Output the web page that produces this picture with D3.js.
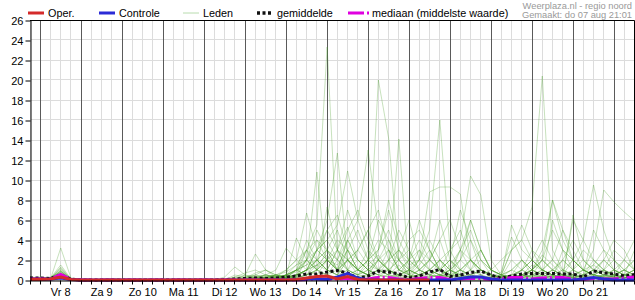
<!DOCTYPE html>
<html><head><meta charset="utf-8">
<script src="https://cdn.jsdelivr.net/npm/d3@7"></script>
<style>
body{margin:0;background:#fff}
svg{display:block;font-family:"Liberation Sans",Arial,sans-serif}
</style></head>
<body><svg id="chart" width="635" height="300"></svg>
<script>
// ---------- DATA ----------
const startTime = new Date(2025, 7, 7, 18); // do 07 aug 18:00, 6-hourly steps
const stepHours = 6;
const nSteps = 60;
const dayLabels = ["Vr 8","Za 9","Zo 10","Ma 11","Di 12","Wo 13","Do 14","Vr 15","Za 16","Zo 17","Ma 18","Di 19","Wo 20","Do 21"];
const yTicks = [0,2,4,6,8,10,12,14,16,18,20,22,24,26];
const legendNames = ["Oper.","Controle","Leden","gemiddelde","mediaan (middelste waarde)"];
const creditLines = ["Weerplaza.nl - regio noord","Gemaakt: do 07 aug 21:01"];

const oper = [0.05,0.05,0.1,0.3,0.05, 0,0,0,0,0,0,0,0,0,0,0,0,0,0, 0,0,0,0,0,0,0,0.05,0.2,0.35,0.4,0.1,0.35,0.05,0,0,0,0,0,0,0];
const controle = [0.05,0.05,0.1,0.2,0.05, 0,0,0,0,0,0,0,0,0,0,0,0,0,0, 0,0,0,0,0,0,0,0.05,0.1,0.1,0.05,0.3,0.65,0.2,0,0,0,0,0,0,0,0,0,0.15,0.3,0.3,0.1,0,0,0,0,0,0,0,0,0.1,0.25,0.1,0,0,0];
const gemiddelde = [0.2,0.2,0.15,0.5,0.1, 0,0,0,0,0,0,0,0,0,0,0,0,0,0, 0.05,0.1,0.15,0.2,0.15,0.2,0.3,0.4,0.6,0.6,0.8,0.95,0.7,0.2,0.4,0.9,0.8,0.6,0.2,0.4,0.8,1.05,0.35,0.5,0.75,0.9,0.5,0.17,0.4,0.6,0.65,0.65,0.65,0.6,0.6,0.28,0.9,0.72,0.6,0.4,0.55];
const mediaan = [0.1,0.1,0.1,0.55,0.05, 0,0,0,0,0,0,0,0,0,0,0,0,0,0, 0,0,0,0,0,0,0,0,0.05,0.1,0.1,0.1,0.15,0.05,0.1,0.25,0.25,0.1,0.05,0.15,0.25,0.25,0.05,0.1,0.15,0.15,0.05,0.1,0.25,0.25,0.1,0.2,0.25,0.25,0.1,0.05,0.15,0.1,0.1,0.2,0.3];

const leden = [
 [0.3,0.2,0.1,3.2,0.2, 0,0,0,0,0,0,0,0,0,0,0,0,0,0, 0,0,0,0,0.3,0.5,0.8,1.5,3,5.5,23.3,3,1,0.5,1.5,2.5,1,0.3,0,0.2,1,0.5,0,0,0.3,1,0.2,0,0,0.5,1.5,1,2,0.8,0.3,0,0.5,1,0.5,0.2,0.4],
 [0.2,0.3,0.2,1.5,0.1, 0,0,0,0.1,0,0,0,0,0,0,0,0,0,0, 0,0,0.3,0.5,0.2,0,0.5,1,2,10.8,1,0.5,3,5,2,1,0.5,1.5,0.5,0,0.3,2,1,0.5,0,0,0,0.3,1,0.5,0.2,0,0.5,2,1,0.3,0,0,0.5,1,0.3],
 [0.2,0.2,0.1,1.3,0.1, 0,0,0,0,0,0,0,0,0,0,0,0,0,0, 0,0,0,0,0,0.2,0.5,1,1.5,3,6,12.7,2,0.5,0.3,1,3,2,0.5,0.2,0.5,0.3,1.5,3,2,0.5,0,0,0.2,0.5,0.3,0.2,1,0.5,0.2,0.5,1.5,3,2,0.5,0.3],
 [0.3,0.2,0.2,1.2,0, 0,0,0,0,0,0,0,0,0,0,0,0,0,0, 0,0,0.5,0.3,0,0.2,0,0.5,2,3,4,5.5,10.9,6,3,1,0.5,0.3,1,2,1,0,0.5,1,0.3,0,0,0,0,0.3,0.5,0.8,0.4,0,0,0.3,0.6,0.2,0,0.5,1],
 [0.2,0.2,0.1,1.0,0.1, 0,0,0,0.1,0,0,0,0,0,0,0,0,0,0, 0.3,1.3,0.5,0.2,0.5,0.3,0.2,0.5,1,1.5,2.5,1,4,6,13,5,2,1,0.5,0.3,0.2,0.5,1,0.3,0,0,0.3,0.8,4.3,2,1,0.5,0.3,0.2,0.5,1,0.5,0.3,0.2,0,0.3],
 [0.1,0.1,0.2,0.9,0, 0,0,0,0,0,0,0,0,0,0,0,0,0,0, 0,0.3,0.2,0.7,1,0.5,0.3,0.5,0.2,1,2,1.5,3,2,1,20,14.2,2,0.5,0.3,1,2,1,0.5,0.3,0.2,0,0,0.5,1,0.5,0.3,0.2,3,2,1,0.5,0.3,0.2,0.5,1],
 [0.2,0.1,0.1,0.8,0.1, 0,0,0,0,0,0,0,0,0,0,0,0,0,0, 0,0,0,0.3,0.5,0.3,0.2,1,3,2,1,0.5,2,3,1.5,1,1,14.1,0.5,1.5,3,1,0.5,0.3,1,2,0.5,0,0,0.3,1,2.5,1.5,0.5,0.2,0,0.3,0.5,1,0.5,0.2],
 [0.2,0.2,0.3,0.7,0, 0,0,0,0,0,0,0,0,0,0,0,0,0,0, 0,0,0,0,0.2,0.5,0.3,0.5,1,2,3,1,2,1,0.5,1,2,3,1.5,2,5,16,3,1,0.5,0.3,0.2,0,0.2,0.5,1,2,1,0.5,0.3,0.5,2,1,0.5,0.3,0.2],
 [0.1,0.2,0.1,0.6,0.1, 0,0,0,0.1,0,0,0,0,0,0,0,0,0,0, 0,0,0.2,0.3,0.2,0,0.3,0.5,1,1.5,1,3,2,1,0.5,2,3,1,0.8,2,8.8,9.3,9.3,8.6,2,1,0.5,0.2,0.3,0.5,1,0.5,0.3,0.2,0.5,1,1.5,0.8,0.3,0.2,0.5],
 [0.2,0.1,0.2,0.5,0, 0,0,0,0,0,0,0,0,0,0,0,0,0,0, 0,0,0,0,0,0.3,0.5,0.2,0.5,1,2,4,3,1,2,3,5,2,1,0.5,1,2,3,4,10.4,8.5,2,0.5,0.3,1,2,1,0.5,0.3,0.2,0.5,1,0.8,0.5,1,2],
 [0.1,0.1,0.1,0.5,0, 0,0,0,0,0,0,0,0,0,0,0,0,0,0, 0,0,0.3,0.5,0.3,0.2,0.5,1,0.5,2,3,2,1,0.5,1,2,1,0.5,0.3,1,2,1,0.5,0.3,0.2,0.5,1,2,3,4,7.3,20.4,3,1,0.5,0.3,0.2,0.5,1,0.5,0.3],
 [0.2,0.2,0.1,0.4,0, 0,0,0,0,0,0,0,0,0,0,0,0,0,0, 0,0,0,0.2,0.5,0.3,0.2,0.3,1,3,5,3,2,1,0.5,0.3,1,2,3,1,0.5,0.3,1,2,1,0.5,0.2,0,0.3,1,2,1,0.5,1,2,4,9.5,5,2,1,0.5],
 [0.2,0.1,0.2,0.4,0.1, 0,0,0,0,0,0,0,0,0,0,0,0,0,0, 0,0,0,0,0.3,0.2,0.5,0.8,2,1,0.5,2,4,2,1,0.5,1,0.5,2,3,1,0.5,0.3,0.5,2,1,0.5,0.3,0.2,0.5,1,2,1,0.5,0.3,1,3,9,7.8,6.8,5.9],
 [0.1,0.2,0.1,0.3,0, 0,0,0,0,0,0,0,0,0,0,0,0,0,0, 0,0.2,0.5,2.6,1,0.5,0.3,0.5,1,2,5,6.5,3,1,2,4,3,1,0.5,2,4,2,1,3,6,3,1,0.5,0.2,0.3,1,2,5,3,2,1,0.5,0.3,1,2,1],
 [0.2,0.1,0.1,0.3,0, 0,0,0,0,0,0,0,0,0,0,0,0,0,0, 0,0,0,0.3,0.5,1,3.2,2,6.7,3,2,1,0.5,1,3,2,1,2,4,5,3,1,2,1,0.5,0.3,0.2,0.5,5.5,3,2,1,0.5,0.2,6.5,2,1,0.5,0.3,0.2,0.5],
 [0.1,0.1,0.1,0.2,0, 0,0,0,0,0,0,0,0,0,0,0,0,0,0, 0,0,0,0,0,0.2,0.5,4.2,2,1,7.3,3,5.3,2,1,0.5,2,3,6,2,1,0.5,0.3,1,2,3,1,0.5,0.3,0.2,0.5,1,2,5,3,1,0.5,2,4,3,1],
 [0.2,0.2,0.2,1.1,0.1, 0,0,0,0,0,0,0,0,0,0,0,0,0,0, 0,0,0,0.5,1,0.3,0.2,0.5,3,4,2,1,2,3,5,2,1,0.5,0.3,1,2,4,6,3,1,0.5,0.2,0.3,0.5,2,1,3,8,4,2,1,0.5,0.3,0.5,1,0.5],
 [0.1,0.2,0.1,0.9,0, 0,0,0,0,0,0,0,0,0,0,0,0,0,0, 0,0.5,0.3,0.2,0.3,0.5,0.2,1,1.5,2,1,3,7,4,2,1,0.5,3,2,1,0.5,0.3,0.5,1,2,1,0.5,0.3,0.2,0.5,1,0.5,0.3,0.5,6,4,2,1,0.5,0.3,0.2],
 [0.1,0.1,0.1,0.2,0, 0,0,0,0,0,0,0,0,0,0,0,0,0,0, 0,0,0,0,0,0,0.2,0.3,0.5,1,0.5,0.3,1,2,1,0.5,0.3,0.5,1,0.5,0.3,0.5,1,0.5,0.3,0.2,0,0,0.2,0.5,0.3,0.2,0.5,1,0.5,0.3,0.2,0.5,0.3,0.2,0.3],
 [0.2,0.1,0.2,0.6,0, 0,0,0,0,0,0,0,0,0,0,0,0,0,0, 0,0,0.2,0.3,0,0,0.5,1.5,2,4,3,2,5,7,4,2,1,0.5,1,3,2,1,0.5,2,4,2,1,0.5,1,2,1,0.5,0.3,0.5,2,1,0.5,1,3,2,1],
 [0.1,0.1,0.1,0.7,0.1, 0,0,0,0,0,0,0,0,0,0,0,0,0,0, 0,0,0,0,0.2,0.3,1,2,3,1,0.5,1,2,1,0.5,3,8,4,2,1,0.5,1,2,1,0.5,0.3,0.2,0.5,3,5.5,3,1,0.5,0.3,0.2,0.5,1,2,1,0.5,3],
 [0.2,0.2,0.1,0.5,0, 0,0,0,0,0,0,0,0,0,0,0,0,0,0, 0,0,0,0.2,0.2,0.5,0.3,0.5,1,0.5,2,3,1,0.5,2,6,4,2,1,0.5,0.3,0.5,1,2,6,3,1,0.5,0.3,0.2,0.5,2,8,5,2,1,0.5,0.3,0.2,0.5,1],
 [0.1,0.1,0,0.1,0, 0,0,0,0,0,0,0,0,0,0,0,0,0,0, 0,0,0,0,0,0,0,0.2,0.5,1,2,1,0.5,0.3,0.5,1,0.5,0.3,0.2,0.5,1,0.5,0.3,0.2,0.5,1,0.5,0.2,0,0.2,0.5,1,0.5,0.3,0.2,0.5,1,0.5,0.3,0.2,0.5],
 [0.2,0.1,0.1,0.4,0, 0,0,0,0,0,0,0,0,0,0,0,0,0,0, 0,0,0,0,0.3,0.5,0.2,0.3,2,5,3,1,0.5,1,2,3,7,3,1,0.5,1,2,0.5,0.3,0.5,1,0.5,0.3,2,1,0.5,0.3,6,3,1,0.5,0.3,0.2,0.5,2,4],
 [0.1,0.2,0.1,0.8,0, 0,0,0,0,0,0,0,0,0,0,0,0,0,0, 0,0.3,0.7,1,0.5,0.3,0.5,1,4,2,1,0.5,2,1,0.5,0.3,0.5,1,2,4,2,1,0.5,3,5,2,1,0.5,0.3,0.5,0.3,0.5,1,2,1,0.5,5,3,1,0.5,0.3],
 [0.2,0.1,0.1,0.3,0, 0,0,0,0,0,0,0,0,0,0,0,0,0,0, 0,0,0,0,0,0.2,0.3,0.5,1,3,2,1,4,2,1,0.5,0.3,0.5,1,0.5,2,6,2,0.5,0.3,0.2,0.3,0.5,1,2,0.5,0.3,0.2,0.5,1,2,1,0.5,0.3,0.2,0.5],
 [0.1,0.1,0.1,0.6,0, 0,0,0,0,0,0,0,0,0,0,0,0,0,0, 0,0,0,0,0.2,0.5,1,2,1,3,4,2,1,3,5,7,3,1,2,6,3,1,2,7,4,1,0.5,0.3,0.5,1,2,4,2,1,0.5,0.3,1,2,1,0.5,0.3],
 [0.2,0.1,0.1,0.9,0.1, 0,0,0,0,0,0,0,0,0,0,0,0,0,0, 0,0,0,0.1,0.3,0.2,0.5,1,0.5,1.5,2,1,3,1,0.5,1,2,5,3,1,2,4,1,0.5,1,3,1,0.5,3,4,2,1,0.5,0.3,1,3,2,1,0.5,1,2],
 [0.1,0.2,0.2,0.4,0, 0,0,0,0,0,0,0,0,0,0,0,0,0,0, 0,0,0,0,0,0.1,0.3,1,2,1,3,5,2,1,0.5,2,4,1,0.5,1,0.5,1,3,5,2,1,0.5,0.3,0.2,1,3,2,1,2,4,2,1,0.5,0.3,0.5,1],
 [0.2,0.1,0.1,0.3,0, 0,0,0,0,0,0,0,0,0,0,0,0,0,0, 0,0,0,0,0.2,0.1,0.2,0.3,1,2,1,0.5,1,0.5,1,2,1,0.5,0.3,0.5,1,0.5,0.3,1,2,1,0.3,0.2,0.5,0.3,0.2,0.5,1,0.5,0.3,0.2,0.5,1,2,1,0.5]
];

// ---------- DRAW ----------
const svg = d3.select("#chart");
const L = 30, R = 634.5, T = 20, B = 280;
const timeAt = i => d3.timeHour.offset(startTime, i * stepHours);
const endTime = timeAt(nSteps - 1);
const x = d3.scaleTime().domain([startTime, endTime]).range([L, R]);
const y = d3.scaleLinear().domain([0, 26]).range([B, T]);
const crisp = v => Math.floor(v) + 0.5;

// horizontal grid
svg.append("g").selectAll("line").data(yTicks).join("line")
  .attr("x1", L).attr("x2", R).attr("y1", d => crisp(y(d))).attr("y2", d => crisp(y(d)))
  .attr("stroke", "#dcdcdc").attr("stroke-width", 1);
// vertical 6h grid
const sixHours = d3.timeHour.every(6).range(startTime, d3.timeHour.offset(endTime, 1));
svg.append("g").selectAll("line").data(sixHours).join("line")
  .attr("x1", d => crisp(x(d))).attr("x2", d => crisp(x(d))).attr("y1", T).attr("y2", B)
  .attr("stroke", "#dcdcdc").attr("stroke-width", 1);
// day lines
const days = d3.timeDay.range(d3.timeHour.offset(startTime, 1), endTime);
svg.append("g").selectAll("line").data(days).join("line")
  .attr("x1", d => crisp(x(d))).attr("x2", d => crisp(x(d))).attr("y1", T).attr("y2", B)
  .attr("stroke", "#5a5a5a").attr("stroke-width", 1);

const line = d3.line().x((d, i) => x(timeAt(i))).y(d => y(d));

// members
svg.append("g").selectAll("path").data(leden).join("path")
  .attr("d", line).attr("fill", "none")
  .attr("stroke", "rgb(70,155,35)").attr("stroke-opacity", 0.3).attr("stroke-width", 1);

// mean
svg.append("path").datum(gemiddelde).attr("d", line).attr("fill", "none")
  .attr("stroke", "#111").attr("stroke-width", 3).attr("stroke-dasharray", "3,2.5");
// median
svg.append("path").datum(mediaan).attr("d", line).attr("fill", "none")
  .attr("stroke", "#e000e0").attr("stroke-width", 3).attr("stroke-dasharray", "16,3,2,3");
// control
svg.append("path").datum(controle).attr("d", line).attr("fill", "none")
  .attr("stroke", "#2b2bd6").attr("stroke-width", 3);
// oper
svg.append("path").datum(oper).attr("d", line).attr("fill", "none")
  .attr("stroke", "#d42a2a").attr("stroke-width", 3);

// frame top/right
svg.append("path").attr("d", `M${L},${T+0.5}H${R}V${B}`).attr("fill", "none").attr("stroke", "#000");

// y axis
const yAxis = svg.append("g").attr("transform", `translate(${L + 0.5},0.5)`)
  .call(d3.axisLeft(y).tickValues(yTicks).tickSize(5).tickSizeOuter(0).tickPadding(2));
yAxis.select(".domain").attr("stroke", "#000");
yAxis.selectAll("text").attr("font-size", 11).attr("font-family", "Liberation Sans, Arial, sans-serif").attr("fill", "#000");

// x axis
const xAxis = svg.append("g").attr("transform", `translate(0,${B + 0.5})`)
  .call(d3.axisBottom(x).tickValues(sixHours).tickSize(4).tickSizeOuter(0).tickFormat(""));
xAxis.selectAll(".tick").attr("transform", d => `translate(${crisp(x(d))},0)`);
xAxis.select(".domain").attr("stroke", "#000");

// day labels at noon
svg.append("g").selectAll("text").data(dayLabels).join("text")
  .attr("x", (d, i) => x(d3.timeHour.offset(d3.timeDay.offset(d3.timeDay.floor(startTime), i + 1), 12)))
  .attr("y", 296).attr("text-anchor", "middle").attr("font-size", 11).attr("fill", "#000")
  .text(d => d);

// legend
const legendX = [28, 99, 183, 257, 348];
const legendStyle = [
  {stroke: "#d42a2a", w: 3, dash: null, len: 16},
  {stroke: "#2b2bd6", w: 3, dash: null, len: 16},
  {stroke: "#b8dcae", w: 1, dash: null, len: 16},
  {stroke: "#111", w: 3.5, dash: "3,2.5", len: 16},
  {stroke: "#e000e0", w: 3, dash: "16,3,2,10", len: 21}
];
const lg = svg.append("g");
legendNames.forEach((name, i) => {
  const s = legendStyle[i];
  lg.append("line").attr("x1", legendX[i]).attr("x2", legendX[i] + s.len).attr("y1", 13).attr("y2", 13)
    .attr("stroke", s.stroke).attr("stroke-width", s.w).attr("stroke-dasharray", s.dash);
  lg.append("text").attr("x", legendX[i] + s.len + (i === 4 ? 3 : 4)).attr("y", 17)
    .attr("font-size", 10.8).attr("fill", "#000").text(name);
});

// credits
svg.append("g").selectAll("text").data(creditLines).join("text")
  .attr("x", 632).attr("y", (d, i) => 8.5 + i * 9.5).attr("text-anchor", "end")
  .attr("font-size", 9.3).attr("fill", "#999").text(d => d);
</script>
</body></html>
